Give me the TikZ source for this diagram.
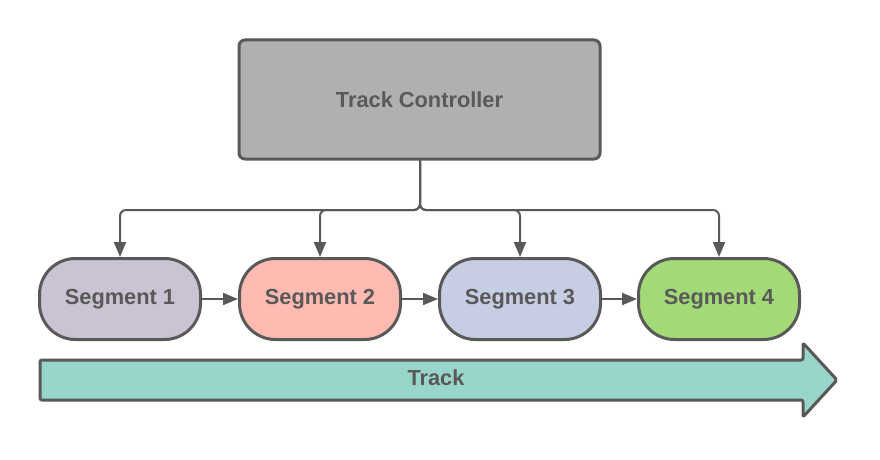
\documentclass[tikz,border=0pt]{standalone}
\usepackage{fontspec}
\setmainfont{Liberation Sans}
\usetikzlibrary{arrows.meta,calc}
\definecolor{ink}{HTML}{595959}
\definecolor{ctrlfill}{HTML}{B0B1AF}
\definecolor{segA}{HTML}{CAC3D3}
\definecolor{segB}{HTML}{FFBBB1}
\definecolor{segC}{HTML}{C7CEE3}
\definecolor{segD}{HTML}{A3D977}
\definecolor{trackfill}{HTML}{98D5CA}
\tikzset{
  lbl/.style={font=\bfseries\fontsize{21.8}{26}\selectfont, text=ink},
  ctrlbox/.style={lbl, draw=ink, line width=3pt, fill=ctrlfill, rounded corners=6pt,
    minimum width=361pt, minimum height=119pt, inner sep=0pt},
  segbox/.style={lbl, draw=ink, line width=3pt, rounded corners=36pt,
    minimum width=161pt, minimum height=81pt, inner sep=0pt},
  conn/.style={draw=ink, line width=2pt, -{Triangle[length=15pt,width=12pt]}, rounded corners=6pt},
  trackshape/.style={draw=ink, line width=3pt, fill=trackfill, rounded corners=2pt, line join=round},
}
\begin{document}
\begin{tikzpicture}[x=1pt,y=-1pt]
\useasboundingbox (0,0) rectangle (880,460);
\node[ctrlbox] (ctrl) at (419.5,99.5) {Track Controller};
\node[segbox, fill=segA] (s1) at (120,299) {Segment 1};
\node[segbox, fill=segB] (s2) at (320,299) {Segment 2};
\node[segbox, fill=segC] (s3) at (520,299) {Segment 3};
\node[segbox, fill=segD] (s4) at (719,299) {Segment 4};
\coordinate (fork) at (420,210);
\foreach \s in {s1,s2,s3,s4}{
  \draw[conn] (ctrl.south -| fork) -- (fork) -- (fork -| \s.north) -- (\s.north);
}
\draw[conn] (s1.east) -- (s2.west);
\draw[conn] (s2.east) -- (s3.west);
\draw[conn] (s3.east) -- (s4.west);
\draw[trackshape] (40,360) -- (803,360) -- (803,343) -- (837,380) -- (803,417) -- (803,400) -- (40,400) -- cycle;
\node[lbl] (track) at (436,378) {Track};
\end{tikzpicture}
\end{document}
